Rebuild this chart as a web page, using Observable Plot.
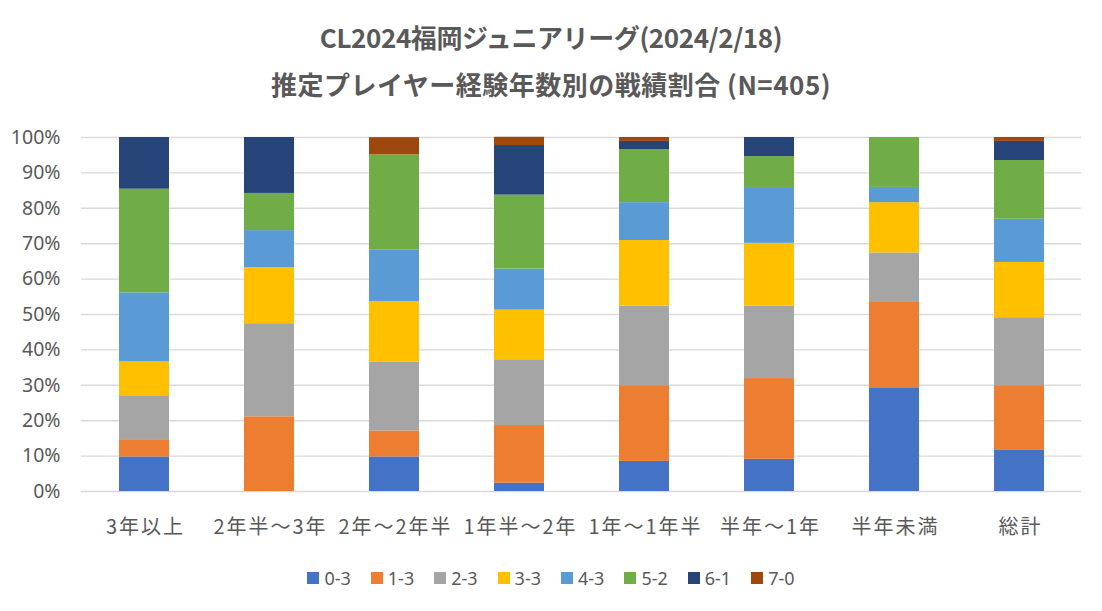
<!DOCTYPE html>
<html>
<head>
<meta charset="utf-8">
<script src="https://cdn.jsdelivr.net/npm/d3@7"></script>
<script src="https://cdn.jsdelivr.net/npm/@observablehq/plot@0.6"></script>
<style>
  html, body { margin: 0; padding: 0; background: #fff; }
  #wrap { position: relative; width: 1102px; height: 611px; background: #fff; font-family: "Noto Sans CJK JP", "Noto Sans", sans-serif; color: #595959; }
  .title { position: absolute; left: 0; width: 1102px; text-align: center; font-weight: bold; font-size: 26px; line-height: 32px; color: #595959; white-space: nowrap; }
  #chart { position: absolute; left: 0; top: 110px; }
  #chart g[aria-label="x-axis tick label"] text { letter-spacing: 2px; }
  #legend { position: absolute; left: 0; top: 566px; width: 1102px; display: flex; justify-content: center; gap: 20px; font-family: "Noto Sans", sans-serif; font-size: 18px; line-height: 24px; color: #595959; }
  .item { display: flex; align-items: center; }
  .sw { width: 12px; height: 12px; margin-right: 5px; }
</style>
</head>
<body>
<div id="wrap">
  <div class="title" style="top:21px; letter-spacing:-0.4px">CL2024福岡ジュニアリーグ(2024/2/18)</div>
  <div class="title" style="top:68px; letter-spacing:0.5px">推定プレイヤー経験年数別の戦績割合 (N=405)</div>
  <div id="chart"></div>
  <div id="legend"></div>
</div>
<script>
// Categories (x axis)
const categories = ["3年以上", "2年半～3年", "2年～2年半", "1年半～2年", "1年～1年半", "半年～1年", "半年未満", "総計"];
// Series names (results)
const seriesNames = ["0-3", "1-3", "2-3", "3-3", "4-3", "5-2", "6-1", "7-0"];
// Series colours
const seriesColors = ["#4472C4", "#ED7D31", "#A5A5A5", "#FFC000", "#5B9BD5", "#70AD47", "#264478", "#9E480E"];
// Percent values per series, across categories
const s03 = [9.76, 0, 9.76, 2.33, 8.5, 9.1, 29.3, 11.6];
const s13 = [4.88, 21.1, 7.32, 16.3, 21.4, 22.8, 24.1, 18.3];
const s23 = [12.2, 26.3, 19.5, 18.6, 22.5, 20.5, 14.0, 19.2];
const s33 = [9.76, 15.8, 17.1, 14.0, 18.5, 17.7, 14.2, 15.6];
const s43 = [19.5, 10.5, 14.6, 11.6, 10.7, 15.5, 4.3, 12.2];
const s52 = [29.3, 10.5, 26.8, 20.9, 15.0, 9.0, 14.1, 16.6];
const s61 = [14.6, 15.8, 0, 14.0, 2.3, 5.4, 0, 5.4];
const s70 = [0, 0, 4.88, 2.33, 1.1, 0, 0, 1.1];
// Y tick values
const yTicks = [0, 10, 20, 30, 40, 50, 60, 70, 80, 90, 100];

const seriesValues = [s03, s13, s23, s33, s43, s52, s61, s70];
const data = [];
seriesNames.forEach((s, i) => {
  categories.forEach((c, j) => {
    data.push({category: c, series: s, value: seriesValues[i][j]});
  });
});

const chart = Plot.plot({
  width: 1102,
  height: 431,
  marginTop: 27,
  marginBottom: 50,
  marginLeft: 81,
  marginRight: 21,
  style: {fontFamily: "'Noto Sans CJK JP', 'Noto Sans', sans-serif", color: "#595959", background: "transparent"},
  x: {domain: categories, paddingInner: 0.6, paddingOuter: 0.3, label: null},
  y: {domain: [0, 100], label: null},
  color: {domain: seriesNames, range: seriesColors},
  marks: [
    Plot.ruleY(yTicks, {stroke: "#d9d9d9", strokeWidth: 1.4}),
    Plot.barY(data, Plot.stackY({x: "category", y: "value", z: "series", fill: "series", order: seriesNames})),
    Plot.axisY({ticks: yTicks, tickSize: 0, tickPadding: 21, tickFormat: d => d + "%", fontSize: 19.5, fill: "#595959", fontFamily: "'Noto Sans', sans-serif", label: null}),
    Plot.axisX({tickSize: 0, tickPadding: 28, fontSize: 20, dx: 1, fill: "#595959", label: null})
  ]
});
document.getElementById("chart").appendChild(chart);

const legend = document.getElementById("legend");
seriesNames.forEach((s, i) => {
  const item = document.createElement("div");
  item.className = "item";
  const sw = document.createElement("span");
  sw.className = "sw";
  sw.style.background = seriesColors[i];
  const t = document.createElement("span");
  t.textContent = s;
  item.appendChild(sw);
  item.appendChild(t);
  legend.appendChild(item);
});
</script>
</body>
</html>
